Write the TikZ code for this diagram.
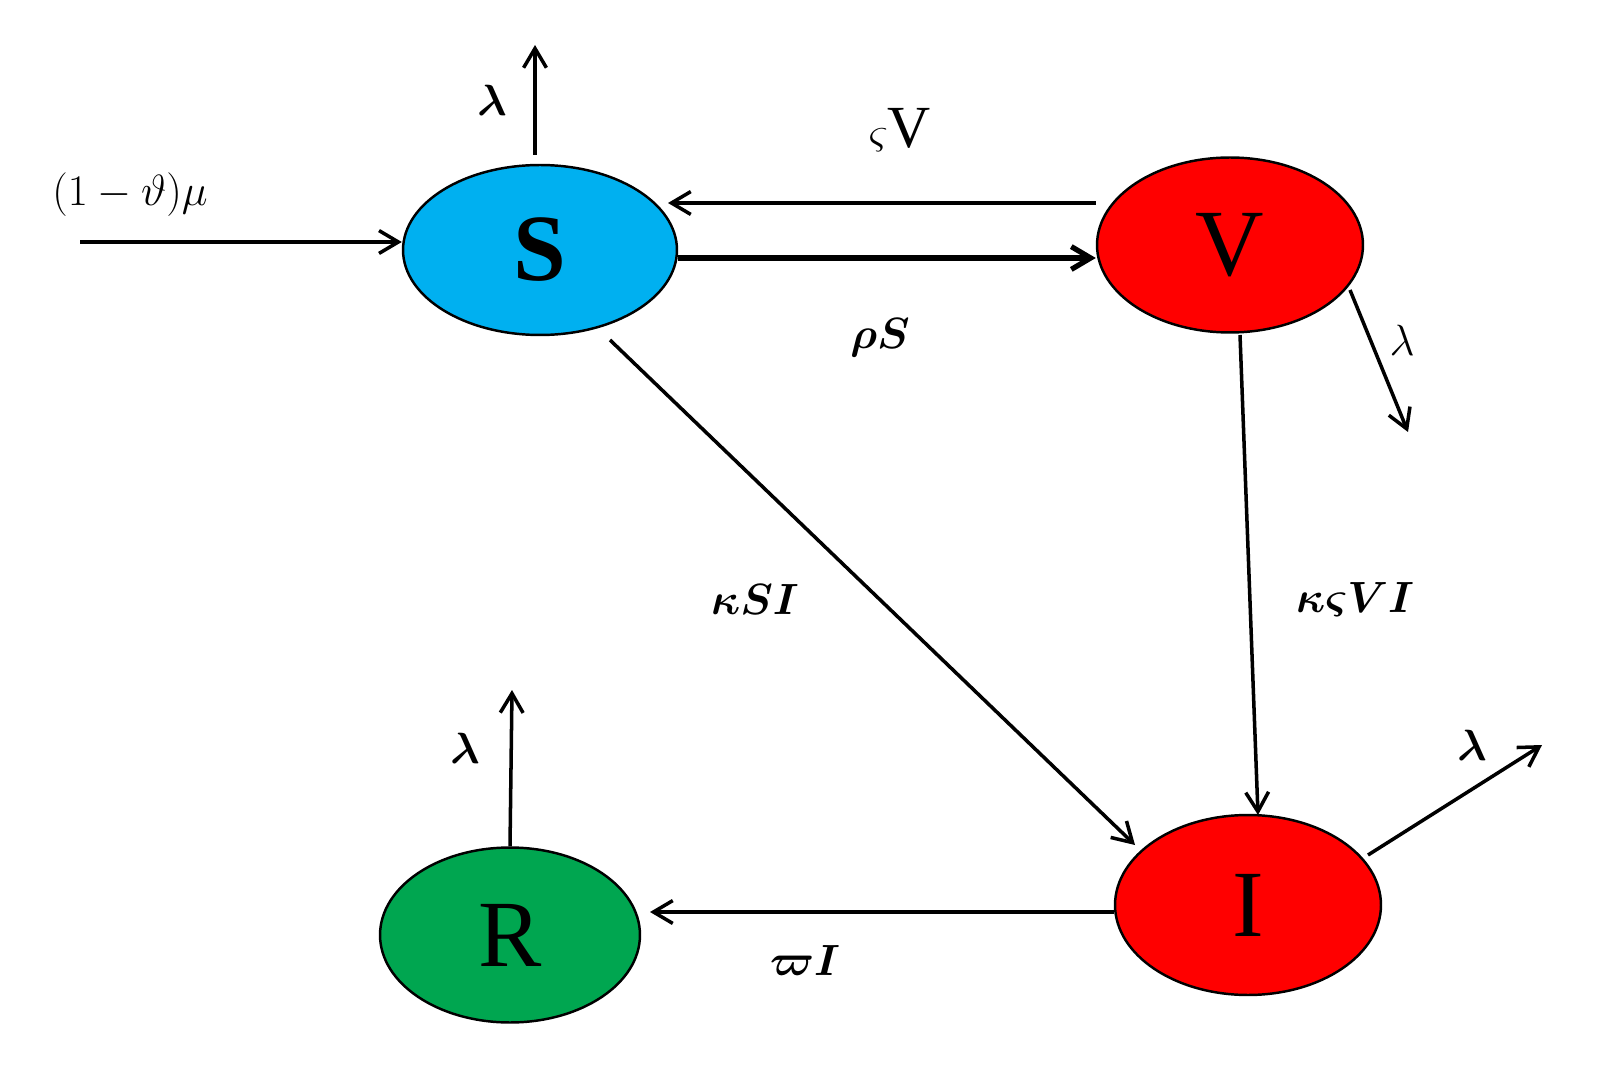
\documentclass[tikz,border=0pt]{standalone}
\usepackage{bm}
\usepackage{fontspec}
\setmainfont{Liberation Serif}
\usetikzlibrary{arrows.meta,shapes.geometric}
\definecolor{scyan}{RGB}{0,176,240}
\definecolor{vred}{RGB}{255,0,0}
\definecolor{rgreen}{RGB}{0,166,80}
\begin{document}
\begin{tikzpicture}[x=0.02cm,y=-0.02cm,
  comp/.style={ellipse,draw=black,line width=1.4pt,inner sep=0pt,font=\fontsize{54}{60}\selectfont},
  arr/.style={-{Straight Barb[length=11pt,width=13pt]},line width=2pt},
  lab/.style={font=\fontsize{34}{38}\selectfont}]
\useasboundingbox (0,0) rectangle (1608,1070);
\node[comp,fill=scyan,minimum width=5.48cm,minimum height=3.4cm] (S) at (540,250) {\textbf{S}};
\node[comp,fill=vred,minimum width=5.32cm,minimum height=3.5cm] (V) at (1230,245) {V};
\node[comp,fill=vred,minimum width=5.32cm,minimum height=3.6cm] (I) at (1248,905) {I};
\node[comp,fill=rgreen,minimum width=5.2cm,minimum height=3.5cm] (R) at (510,935) {R};
\coordinate (in) at (80,242);
\coordinate (Sout) at (535,45);
\coordinate (Vout) at (1408,432);
\coordinate (Iout) at (1542,745);
\coordinate (Rout) at (512,690);
\draw[arr] (in) -- (S.west |- in);
\draw[arr] (535,155) -- (Sout);
\draw[arr] (V.west |- 0,203) -- (668,203);
\draw[arr,line width=3pt] (678,258) -- (V.west |- 0,258);
\draw[arr] (610,340) -- (1135,845);
\draw[arr] (1240,335) -- (1258,815);
\draw[arr] (1350,290) -- (Vout);
\draw[arr] (1368,855) -- (Iout);
\draw[arr] (I.west |- 0,912) -- (650,912);
\draw[arr] (R.north) -- (Rout);
\node[lab] (l1) at (130,195) {$(1-\vartheta)\mu$};
\node[lab] (l2) at (492,100) {$\bm{\lambda}$};
\node[lab] (l3) at (900,130) {$\varsigma\mathrm{V}$};
\node[lab] (l4) at (880,338) {$\bm{\rho S}$};
\node[lab] (l5) at (755,600) {$\bm{\kappa S I}$};
\node[lab] (l6) at (1355,600) {$\bm{\kappa\varsigma V I}$};
\node[lab] (l7) at (1402,340) {$\lambda$};
\node[lab] (l8) at (1472,745) {$\bm{\lambda}$};
\node[lab] (l9) at (465,748) {$\bm{\lambda}$};
\node[lab] (l10) at (805,960) {$\bm{\varpi I}$};
\end{tikzpicture}
\end{document}
